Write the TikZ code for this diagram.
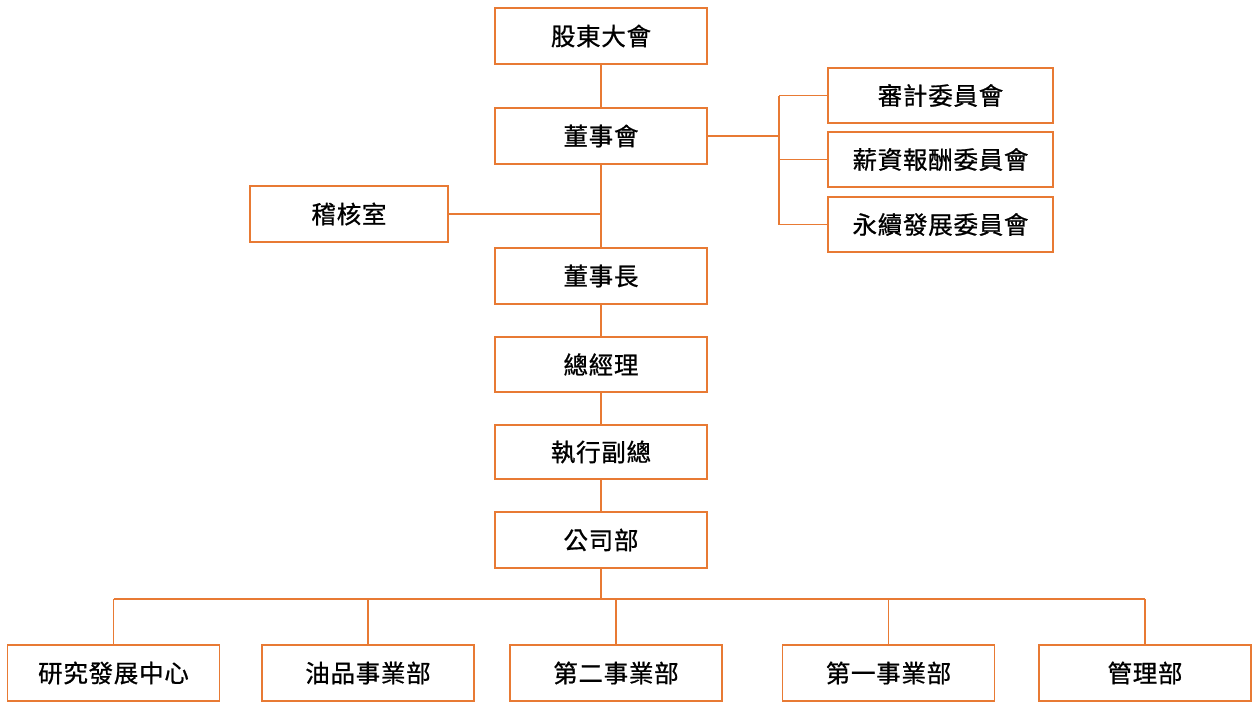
\documentclass[tikz,border=0pt]{standalone}
\usepackage{fontspec}
\setmainfont{Noto Sans CJK TC}[FakeBold=0.8,LetterSpace=3]
\definecolor{org}{RGB}{232,122,52}
\begin{document}
\begin{tikzpicture}[x=1pt,y=-1pt,
  box/.style={draw=org,line width=1.8pt,fill=white,rectangle,minimum width=212pt,minimum height=56pt,inner sep=0pt,font=\fontsize{24.5}{28}\selectfont},
  cbox/.style={box,minimum width=225pt,minimum height=55pt},
  ln/.style={draw=org,line width=1.8pt}]
\fill[white] (0,0) rectangle (1260,713);
\useasboundingbox (0,0) rectangle (1260,713);
\node[box] (gm) at (601,36) {股東大會};
\node[box] (board) at (601,136) {董事會};
\node[cbox] (c1) at (940.5,95.5) {審計委員會};
\node[cbox] (c2) at (940.5,159.5) {薪資報酬委員會};
\node[cbox] (c3) at (940.5,224.5) {永續發展委員會};
\node[box,minimum width=198pt] (audit) at (349,214) {稽核室};
\node[box] (chair) at (601,276) {董事長};
\node[box,minimum height=55pt] (ceo) at (601,364.5) {總經理};
\node[box,minimum height=54pt] (evp) at (601,452) {執行副總};
\node[box] (corp) at (601,540) {公司部};
\node[box] (d1) at (113.5,673) {研究發展中心};
\node[box] (d2) at (368,673) {油品事業部};
\node[box] (d3) at (616,673) {第二事業部};
\node[box] (d4) at (888.5,673) {第一事業部};
\node[box] (d5) at (1145,673) {管理部};
\coordinate (cj) at (779,136);
\coordinate (cj1) at (779,95.5);
\coordinate (cj2) at (779,159.5);
\coordinate (cj3) at (779,224.5);
\coordinate (aj) at (601,214);
\coordinate (bj) at (601,599);
\coordinate (b1) at (113.5,599);
\coordinate (b2) at (368,599);
\coordinate (b3) at (616,599);
\coordinate (b4) at (888.5,599);
\coordinate (b5) at (1145,599);
\draw[ln] (gm.south) -- (board.north);
\draw[ln] (board.east) -- (cj);
\draw[ln] (cj1) -- (cj3);
\draw[ln] (cj1) -- (c1.west);
\draw[ln] (cj2) -- (c2.west);
\draw[ln] (cj3) -- (c3.west);
\draw[ln] (board.south) -- (chair.north);
\draw[ln] (audit.east) -- (aj);
\draw[ln] (chair.south) -- (ceo.north);
\draw[ln] (ceo.south) -- (evp.north);
\draw[ln] (evp.south) -- (corp.north);
\draw[ln] (corp.south) -- (bj);
\draw[ln] (b1) -- (b5);
\draw[ln] (b1) -- (d1.north);
\draw[ln] (b2) -- (d2.north);
\draw[ln] (b3) -- (d3.north);
\draw[ln] (b4) -- (d4.north);
\draw[ln] (b5) -- (d5.north);
\end{tikzpicture}
\end{document}
